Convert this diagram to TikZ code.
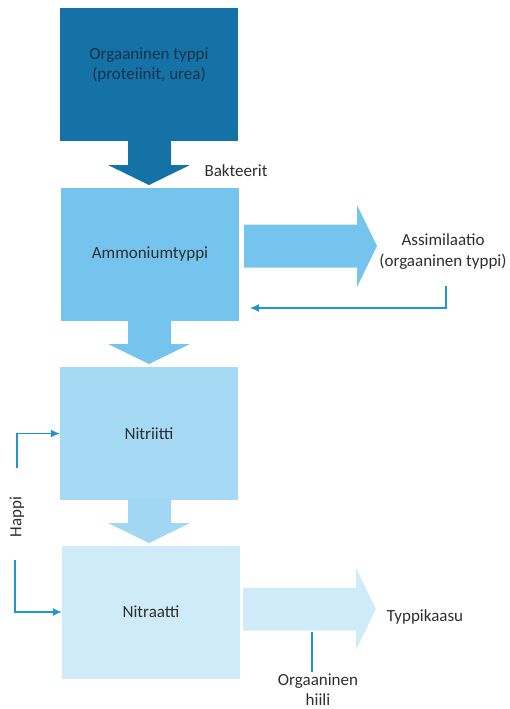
\documentclass[tikz,border=0pt]{standalone}
\usepackage{fontspec}
\setmainfont{Carlito}
\usepackage{xcolor}
\usetikzlibrary{arrows.meta}

\definecolor{orgblue}{HTML}{1572A7}
\definecolor{ammblue}{HTML}{75C4ED}
\definecolor{nitblue}{HTML}{A6D9F4}
\definecolor{natblue}{HTML}{D0EBF8}
\definecolor{lineblue}{HTML}{1E96D6}
\definecolor{txtgray}{HTML}{2E2E2E}
\definecolor{orgtext}{HTML}{16324A}

% block arrow pointing down, shaft starts at y = #2
\newcommand{\blockdown}[2]{
    \fill[#1] (128,#2) -- (171,#2) -- (171,{#2+24}) -- (190,{#2+24})
        -- (149,{#2+44}) -- (108,{#2+24}) -- (128,{#2+24}) -- cycle;
}
% block arrow pointing right, shaft starts at x = #2, centred on y = #3
\newcommand{\blockright}[3]{
    \fill[#1] (#2,{#3-21.5}) -- ({#2+113},{#3-21.5}) -- ({#2+113},{#3-41})
        -- ({#2+133},#3) -- ({#2+113},{#3+41}) -- ({#2+113},{#3+21.5})
        -- (#2,{#3+21.5}) -- cycle;
}

\begin{document}
\begin{tikzpicture}[x=1pt, y=-1pt,
        box/.style = {minimum width=178pt, minimum height=133pt, inner sep=0pt},
        txt/.style = {text=txtgray, font=\fontsize{17}{20.5}\selectfont, align=center, inner sep=0pt},
        thin/.style = {draw=lineblue, line width=1.1pt, -{Latex[length=9pt,width=8pt]}}]
    \useasboundingbox (0,0) rectangle (509,709);

    \node[box, fill=orgblue] (org) at (149,74.5) {};
    \node[txt, text=orgtext] (orgtxt) at (149,65) {Orgaaninen typpi\\(proteiinit, urea)};
    \node[box, fill=ammblue, txt] (amm) at (150,254) {Ammoniumtyppi};
    \node[box, fill=nitblue, txt] (nit) at (149,433.5) {Nitriitti};
    \node[box, fill=natblue, txt] (nat) at (151,612) {Nitraatti};

    \blockdown{orgblue}{141}
    \blockdown{ammblue}{320}
    \blockdown{nitblue!92!ammblue}{499}
    \blockright{ammblue}{244}{246}
    \blockright{natblue}{243}{609}

    \node[txt] (bakt) at (236,171) {Bakteerit};
    \node[txt] (assim) at (443,251.5) {Assimilaatio\\(orgaaninen typpi)};
    \node[txt] (kaasu) at (425,617) {Typpikaasu};
    \node[txt] (hiili) at (318,689.5) {Orgaaninen\\hiili};
    \node[txt, rotate=90] (happi) at (17,517) {Happi};

    % thin connectors
    \coordinate (fbstart) at (446,286);
    \coordinate (fbend) at (250,308);
    \draw[thin] (fbstart) |- (fbend);

    \coordinate (happiup) at (17,468);
    \coordinate (happidown) at (15,560);
    \draw[thin] (happiup) |- (nit.west);
    \draw[thin] (happidown) |- (nat.west);

    \coordinate (hiilitop) at (312,632);
    \draw[lineblue, line width=1.1pt] (hiilitop) -- (312,672);
\end{tikzpicture}
\end{document}
